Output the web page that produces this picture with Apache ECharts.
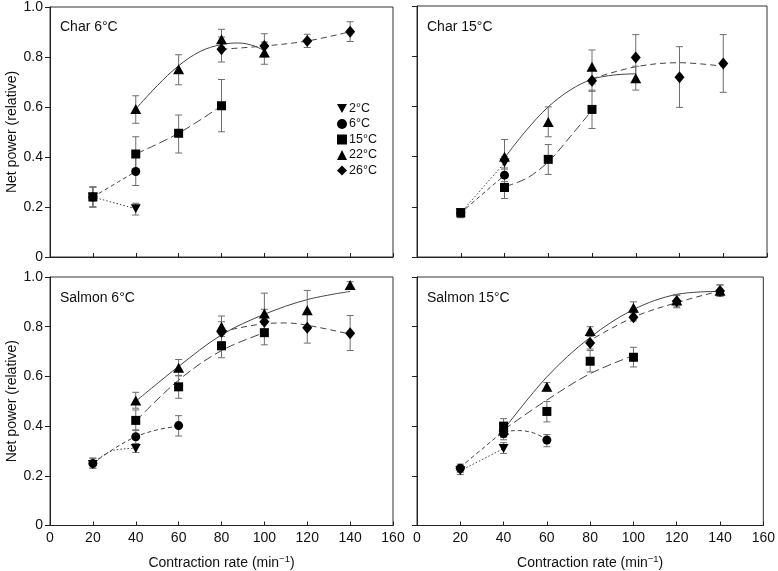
<!DOCTYPE html>
<html>
<head>
<meta charset="utf-8">
<script src="https://cdn.jsdelivr.net/npm/echarts@6/dist/echarts.min.js"></script>
<style>html,body{margin:0;padding:0;background:#fff;}#c{width:778px;height:571px;}</style>
</head>
<body>
<div id="c"></div>
<script>
// ---------------- DATA ----------------
const temps = ['2°C', '6°C', '15°C', '22°C', '26°C'];
const panelTitles = ['Char 6°C', 'Char 15°C', 'Salmon 6°C', 'Salmon 15°C'];
const xTickValues = [0, 20, 40, 60, 80, 100, 120, 140, 160];
const yTickValues = [0, 0.2, 0.4, 0.6, 0.8, 1.0];

// points: [contraction rate, mean, lower error, upper error]
// Char 6°C
const char6_2C  = [[20, 0.24, 0.20, 0.28], [40, 0.193, 0.168, 0.215]];
const char6_6C  = [[20, 0.24, 0.20, 0.28], [40, 0.342, 0.286, 0.40]];
const char6_15C = [[20, 0.24, 0.20, 0.28], [40, 0.412, 0.35, 0.481], [60, 0.495, 0.416, 0.568], [80, 0.605, 0.501, 0.71]];
const char6_22C = [[40, 0.592, 0.535, 0.645], [60, 0.751, 0.689, 0.809], [80, 0.871, 0.84, 0.911], [100, 0.818, 0.771, 0.86]];
const char6_26C = [[80, 0.831, 0.78, 0.88], [100, 0.844, 0.80, 0.893], [120, 0.864, 0.838, 0.891], [140, 0.901, 0.862, 0.941]];
// Char 15°C
const char15_2C  = [[20, 0.176, 0.157, 0.193], [40, 0.375, 0.35, 0.40]];
const char15_6C  = [[20, 0.176, 0.157, 0.193], [40, 0.326, 0.30, 0.355]];
const char15_15C = [[20, 0.176, 0.157, 0.193], [40, 0.277, 0.233, 0.32], [60, 0.389, 0.329, 0.448], [80, 0.588, 0.512, 0.665]];
const char15_22C = [[40, 0.399, 0.33, 0.468], [60, 0.538, 0.479, 0.598], [80, 0.758, 0.69, 0.825], [100, 0.712, 0.665, 0.76]];
const char15_26C = [[80, 0.702, 0.66, 0.745], [100, 0.795, 0.70, 0.886], [120, 0.716, 0.596, 0.838], [140, 0.771, 0.656, 0.886]];
// Salmon 6°C
const salmon6_2C  = [[20, 0.245, 0.231, 0.271], [40, 0.31, 0.294, 0.327]];
const salmon6_6C  = [[20, 0.25, 0.231, 0.271], [40, 0.357, 0.33, 0.385], [60, 0.402, 0.36, 0.442]];
const salmon6_15C = [[40, 0.423, 0.382, 0.465], [60, 0.558, 0.512, 0.602], [80, 0.723, 0.675, 0.77], [100, 0.776, 0.727, 0.823]];
const salmon6_22C = [[40, 0.503, 0.472, 0.536], [60, 0.635, 0.604, 0.668], [80, 0.80, 0.761, 0.843], [100, 0.853, 0.77, 0.935], [120, 0.866, 0.79, 0.946], [140, 0.968, 0.955, 0.981]];
const salmon6_26C = [[80, 0.779, 0.74, 0.82], [100, 0.82, 0.77, 0.87], [120, 0.796, 0.734, 0.86], [140, 0.774, 0.704, 0.845]];
// Salmon 15°C
const salmon15_2C  = [[20, 0.22, 0.205, 0.235], [40, 0.31, 0.29, 0.333]];
const salmon15_6C  = [[20, 0.23, 0.214, 0.247], [40, 0.37, 0.345, 0.395], [60, 0.344, 0.317, 0.366]];
const salmon15_15C = [[40, 0.40, 0.37, 0.43], [60, 0.459, 0.417, 0.499], [80, 0.661, 0.618, 0.704], [100, 0.677, 0.638, 0.717]];
const salmon15_22C = [[40, 0.385, 0.36, 0.41], [60, 0.558, 0.541, 0.575], [80, 0.783, 0.766, 0.80], [100, 0.876, 0.856, 0.90], [120, 0.905, 0.88, 0.93], [140, 0.945, 0.925, 0.968]];
const salmon15_26C = [[40, 0.38, 0.355, 0.405], [80, 0.734, 0.71, 0.761], [100, 0.838, 0.823, 0.856], [120, 0.902, 0.876, 0.925], [140, 0.944, 0.922, 0.968]];

// fitted curves: [rate, value]
const char6_fit2C  = [[20, 0.24], [40, 0.193]];
const char6_fit6C  = [[20, 0.24], [40, 0.342]];
const char6_fit15C = [[40, 0.412], [60, 0.495], [80, 0.605]];
const char6_fit22C = [[40, 0.592], [50, 0.685], [60, 0.765], [70, 0.822], [80, 0.85], [88, 0.856], [95, 0.845], [100, 0.825]];
const char6_fit26C = [[80, 0.831], [100, 0.844], [120, 0.864], [140, 0.901]];

const char15_fit2C  = [[20, 0.176], [40, 0.375]];
const char15_fit6C  = [[20, 0.176], [40, 0.326]];
const char15_fit15C = [[40, 0.28], [50, 0.313], [60, 0.379], [70, 0.479], [80, 0.585]];
const char15_fit22C = [[40, 0.395], [50, 0.505], [60, 0.598], [70, 0.665], [80, 0.708], [90, 0.725], [100, 0.73]];
const char15_fit26C = [[80, 0.71], [100, 0.758], [120, 0.774], [140, 0.76]];

const salmon6_fit2C  = [[20, 0.25], [25, 0.283], [30, 0.303], [40, 0.311]];
const salmon6_fit6C  = [[20, 0.25], [30, 0.31], [40, 0.357], [50, 0.385], [60, 0.40]];
const salmon6_fit15C = [[40, 0.42], [60, 0.585], [80, 0.704], [100, 0.776]];
const salmon6_fit22C = [[40, 0.50], [60, 0.64], [80, 0.767], [100, 0.85], [120, 0.909], [140, 0.942]];
const salmon6_fit26C = [[80, 0.78], [100, 0.812], [110, 0.815], [120, 0.806], [140, 0.77]];

const salmon15_fit2C  = [[20, 0.22], [40, 0.31]];
const salmon15_fit6C  = [[20, 0.234], [30, 0.307], [40, 0.373], [47, 0.382], [54, 0.372], [60, 0.346]];
const salmon15_fit15C = [[40, 0.385], [60, 0.505], [80, 0.611], [100, 0.684]];
const salmon15_fit22C = [[40, 0.385], [60, 0.598], [80, 0.757], [100, 0.869], [120, 0.93], [140, 0.942]];
const salmon15_fit26C = [[78, 0.735], [100, 0.838], [120, 0.897], [140, 0.944]];

// ---------------- STYLE ----------------
const FONT = 'Liberation Sans, Arial, sans-serif';
const symbols = ['path://M0,0L10,0L5,9Z', 'circle', 'rect', 'triangle', 'diamond'];
const symbolSizes = [[10, 9], 9, 9, [11, 10], [10, 12]];
const dashes = [[1.5, 2], [4, 3], [9, 4], 'solid', [6, 4]];
const grids = [
  {left: 50, top: 6, width: 343, height: 251},
  {left: 417, top: 6, width: 350, height: 251},
  {left: 50, top: 277, width: 343, height: 252},
  {left: 417, top: 277, width: 349, height: 252}
];

const panels = [
  {pts: [char6_2C, char6_6C, char6_15C, char6_22C, char6_26C], fits: [char6_fit2C, char6_fit6C, char6_fit15C, char6_fit22C, char6_fit26C]},
  {pts: [char15_2C, char15_6C, char15_15C, char15_22C, char15_26C], fits: [char15_fit2C, char15_fit6C, char15_fit15C, char15_fit22C, char15_fit26C]},
  {pts: [salmon6_2C, salmon6_6C, salmon6_15C, salmon6_22C, salmon6_26C], fits: [salmon6_fit2C, salmon6_fit6C, salmon6_fit15C, salmon6_fit22C, salmon6_fit26C]},
  {pts: [salmon15_2C, salmon15_6C, salmon15_15C, salmon15_22C, salmon15_26C], fits: [salmon15_fit2C, salmon15_fit6C, salmon15_fit15C, salmon15_fit22C, salmon15_fit26C]}
];

function errRender(params, api) {
  const x = api.value(0), lo = api.value(2), hi = api.value(3);
  const a = api.coord([x, lo]), b = api.coord([x, hi]);
  const w = 3.5, st = {stroke: '#6e6e6e', lineWidth: 1};
  return {type: 'group', children: [
    {type: 'line', shape: {x1: a[0], y1: a[1], x2: b[0], y2: b[1]}, style: st},
    {type: 'line', shape: {x1: a[0] - w, y1: a[1], x2: a[0] + w, y2: a[1]}, style: st},
    {type: 'line', shape: {x1: b[0] - w, y1: b[1], x2: b[0] + w, y2: b[1]}, style: st}
  ]};
}

const xAxes = [], yAxes = [], series = [], titles = [];
grids.forEach((g, i) => {
  const bottom = i >= 2, left = (i % 2) === 0;
  xAxes.push({
    gridIndex: i, type: 'value', min: 0, max: 160, interval: 20,
    axisLine: {lineStyle: {color: '#222'}},
    axisTick: {inside: true, length: 4, lineStyle: {color: '#222'}},
    axisLabel: {show: bottom, color: '#111', fontSize: 14, fontFamily: FONT, margin: 6},
    splitLine: {show: false},
    name: bottom ? 'Contraction rate (min{sup|−1})' : '',
    nameLocation: 'middle', nameGap: 29,
    nameTextStyle: {color: '#111', fontSize: 14, fontFamily: FONT,
      rich: {sup: {fontSize: 9.5, fontFamily: FONT, color: '#111', padding: [0, 0, 7, 0]}}}
  });
  yAxes.push({
    gridIndex: i, type: 'value', min: 0, max: 1, interval: 0.2,
    axisLine: {show: true, lineStyle: {color: '#222'}},
    axisTick: {show: true, length: 5, lineStyle: {color: '#222'}},
    axisLabel: {show: left, color: '#111', fontSize: 14, fontFamily: FONT, margin: 7,
      formatter: v => v === 0 ? '0' : v.toFixed(1)},
    splitLine: {show: false},
    name: left ? 'Net power (relative)' : '',
    nameLocation: 'middle', nameGap: 30,
    nameTextStyle: {color: '#111', fontSize: 14, fontFamily: FONT}
  });
  titles.push({text: panelTitles[i], left: g.left + 5, top: g.top + 9,
    textStyle: {fontSize: 14, fontWeight: 'normal', color: '#111', fontFamily: FONT}});
  const p = panels[i];
  temps.forEach((t, k) => {
    series.push({
      type: 'line', xAxisIndex: i, yAxisIndex: i, data: p.fits[k], smooth: 0.35,
      showSymbol: false, symbol: 'none', silent: true, z: 1,
      lineStyle: {color: '#444', width: 1, type: dashes[k]}
    });
    series.push({
      type: 'custom', xAxisIndex: i, yAxisIndex: i, data: p.pts[k], renderItem: errRender,
      encode: {x: 0, y: [1, 2, 3]}, silent: true, z: 2
    });
  });
  temps.forEach((t, k) => {
    series.push({
      name: t, type: 'scatter', xAxisIndex: i, yAxisIndex: i,
      data: p.pts[k].map(d => [d[0], d[1]]),
      symbol: symbols[k], symbolSize: symbolSizes[k],
      itemStyle: {color: '#000', opacity: 1}, z: 3 + (4 - k)
    });
  });
});

const chart = echarts.init(document.getElementById('c'), null, {renderer: 'canvas'});
chart.setOption({
  animation: false,
  backgroundColor: '#fff',
  title: titles,
  grid: grids.map(g => Object.assign({show: true, borderColor: '#333', borderWidth: 1, containLabel: false}, g)),
  xAxis: xAxes,
  yAxis: yAxes,
  legend: {
    data: temps, orient: 'vertical', left: 332, top: 97, itemWidth: 10, itemHeight: 10, itemGap: 2.5,
    selectedMode: false,
    textStyle: {fontSize: 12.5, color: '#111', fontFamily: FONT, padding: [0, 0, 0, -3]}
  },
  series: series
});
</script>
</body>
</html>
